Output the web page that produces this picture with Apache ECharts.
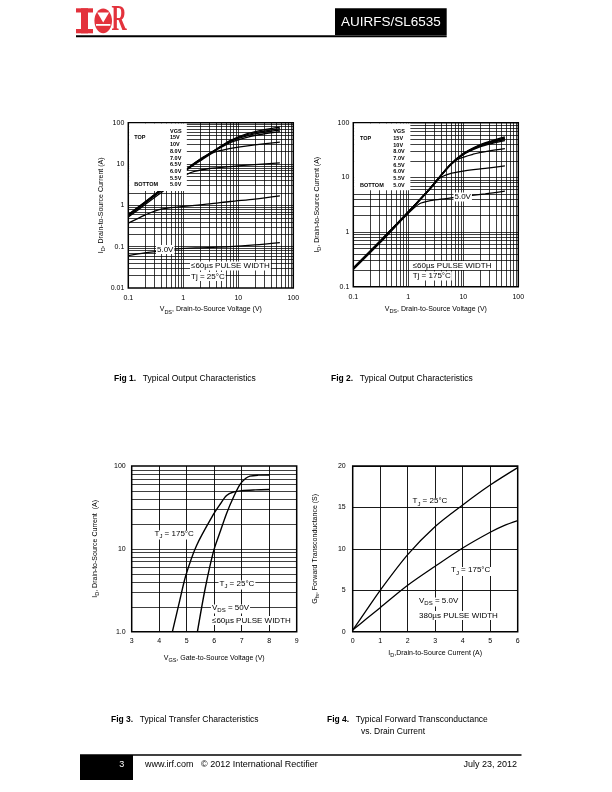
<!DOCTYPE html>
<html><head><meta charset="utf-8">
<script src="https://cdn.jsdelivr.net/npm/echarts@6/dist/echarts.min.js"></script>
<style>html,body{margin:0;padding:0;background:#fff}#c{width:612px;height:792px}</style>
</head><body><div id="c"></div>
<script>
// ---------------- DATA ----------------
const vgsLabels = ['15V','10V','8.0V','7.0V','6.5V','6.0V','5.5V','5.0V'];

// Fig 1: Tj = 25°C  [VDS (V), ID (A)]
const f1_15V = [[0.1,0.6],[0.2,1.2],[0.35,2.15],[0.6,3.8],[1.16,7.7],[2,13],[3.5,20.5],[7.1,37],[15,55],[30,68],[57,78]];
const f1_10V = [[0.1,0.59],[0.2,1.18],[0.35,2.12],[0.6,3.75],[1.16,7.6],[2,12.8],[3.5,20.3],[7.1,36],[15,52],[30,63],[57,72]];
const f1_8V  = [[0.1,0.58],[0.2,1.16],[0.35,2.1],[0.6,3.7],[1.16,7.5],[2,12.6],[3.5,20.1],[7.1,35],[15,49],[30,59],[57,66]];
const f1_7V  = [[0.1,0.57],[0.2,1.14],[0.35,2.05],[0.6,3.6],[1.16,7.4],[2,12.4],[3.5,19.8],[7.1,33],[15,45],[30,54],[57,61]];
const f1_65V = [[0.1,0.56],[0.2,1.12],[0.35,2.0],[0.6,3.5],[1.16,7.2],[2,11.8],[3.5,18.8],[5,21.5],[10,25.5],[20,29],[57,34]];
const f1_6V  = [[0.1,0.52],[0.2,1.03],[0.35,1.8],[0.6,3.1],[1.16,5.6],[1.6,6.6],[3,7.8],[8,8.8],[20,9.7],[57,10.7]];
const f1_55V = [[0.1,0.37],[0.2,0.58],[0.33,0.76],[0.6,0.88],[1,0.94],[3,1.08],[7.1,1.24],[20,1.42],[57,1.7]];
const f1_5V  = [[0.1,0.061],[0.2,0.071],[0.33,0.077],[0.76,0.088],[2,0.094],[7.1,0.10],[20,0.11],[57,0.126]];

// Fig 2: Tj = 175°C
const f2_15V = [[0.1,0.22],[0.3,0.67],[1.06,2.5],[2.44,6.2],[5.6,16.6],[9.8,27],[19.5,39],[35,47.5],[57,55]];
const f2_10V = [[0.1,0.219],[0.3,0.665],[1.06,2.49],[2.44,6.17],[5.6,16.5],[9.8,26.7],[19.5,38.3],[35,46.3],[57,53]];
const f2_8V  = [[0.1,0.218],[0.3,0.66],[1.06,2.48],[2.44,6.15],[5.6,16.4],[9.8,26.4],[19.5,37.6],[35,45],[57,51]];
const f2_7V  = [[0.1,0.217],[0.3,0.655],[1.06,2.47],[2.44,6.12],[5.6,16.3],[9.8,26.1],[19.5,36.8],[35,43.8],[57,49]];
const f2_65V = [[0.1,0.216],[0.3,0.65],[1.06,2.46],[2.44,6.1],[5.6,16.2],[9.8,25.8],[19.5,35.8],[35,42.3],[57,47]];
const f2_6V  = [[0.1,0.215],[0.3,0.645],[1.06,2.45],[2.44,6.05],[5.6,16.0],[8,21.5],[15,26.5],[30,30.5],[57,33.5]];
const f2_55V = [[0.1,0.212],[0.3,0.64],[1.06,2.42],[2.44,6.0],[3.7,9.6],[5.6,11.6],[10,13],[25,14.6],[57,16.2]];
const f2_5V  = [[0.1,0.205],[0.3,0.62],[1,2.2],[1.6,3.3],[2.5,3.75],[4.9,4.1],[10,4.5],[25,5.0],[57,5.6]];

// Fig 3: transfer [VGS (V), ID (A)]
const f3_175 = [[4.48,1],[4.75,2.4],[4.97,4.8],[5.36,11],[5.97,26],[6.2,34],[6.45,44],[6.7,48.5],[7.0,50.5],[7.5,51.5],[8,52]];
const f3_25  = [[5.39,1],[5.67,3.3],[5.97,9.2],[6.2,15.5],[6.45,26.8],[6.7,42],[6.94,60],[7.15,71],[7.3,75.5],[7.6,77.5],[8,78]];

// Fig 4: transconductance [ID (A), Gfs (S)]
const f4_25  = [[0,0.2],[0.5,2.6],[1,5],[2,9.3],[3,12.7],[4,15.3],[5,17.7],[6,19.8]];
const f4_175 = [[0,0.2],[0.5,1.55],[1,2.9],[2,5.6],[3,7.9],[4,10.1],[5,12.0],[5.5,12.8],[6,13.4]];

// legend-box extents in data units [xMin, yMin, xMax, yMax]
const legendBox1 = [0.1, 2.24, 1.16, 100];
const legendBox2 = [0.1, 5.8, 1.09, 100];

// ---------------- HELPERS ----------------
const FONT = 'Liberation Sans, Arial, Helvetica, sans-serif';
function logGridVals(min, max){
  const out=[]; for(let d=min; d<max*0.999; d*=10){ for(let k=1;k<10;k++){ const v=+(d*k).toPrecision(6); if(v>min*1.0001 && v<max*0.9999) out.push(v);} }
  return out;
}
const richName = {
  m:{fontSize:7, fontFamily:FONT, color:'#000', lineHeight:8, padding:[0,0,2,0], verticalAlign:'bottom'},
  s:{fontSize:5.5, fontFamily:FONT, color:'#000', lineHeight:6, verticalAlign:'bottom'}
};
const richAnn = {
  m:{fontSize:8, fontFamily:FONT, color:'#000', lineHeight:9, padding:[0,0,2,0], verticalAlign:'bottom'},
  s:{fontSize:6, fontFamily:FONT, color:'#000', lineHeight:7, verticalAlign:'bottom'}
};
function axLabel(margin, fmt){ const o={fontSize:7, color:'#000', fontFamily:FONT, margin}; if(fmt) o.formatter=fmt; return o; }
function curve(gi, data, w){
  return {type:'line', xAxisIndex:gi, yAxisIndex:gi, data, symbol:'none', showSymbol:false,
    smooth:0.3, lineStyle:{color:'#000', width:w||1.3}, z:3, silent:true, animation:false};
}
function gridSeries(gi, xs, ys, seed){
  return {type:'line', xAxisIndex:gi, yAxisIndex:gi, data:[seed], symbol:'none', showSymbol:false, z:1, silent:true, animation:false,
    lineStyle:{width:0},
    markLine:{silent:true, symbol:['none','none'], animation:false, label:{show:false},
      lineStyle:{color:'#000', width:0.75, type:'solid'},
      emphasis:{disabled:true},
      data:[...xs.map(v=>({xAxis:v})), ...ys.map(v=>({yAxis:v}))]}};
}
function T(x, y, text, o){
  o=o||{};
  return {type:'text', x, y, z:100, silent:true, style:Object.assign({text, fill:o.fill||'#000', fontSize:o.fs||8, fontFamily:o.ff||FONT,
    fontWeight:o.fw||'normal', align:o.align||'left', verticalAlign:'middle'}, o.extra||{})};
}
function R(x,y,w,h,fill,z){ return {type:'rect', z:z||100, silent:true, shape:{x,y,width:w,height:h}, style:{fill}}; }
function L(x1,y1,x2,y2,w){ return {type:'line', z:100, silent:true, shape:{x1,y1,x2,y2}, style:{stroke:'#000', lineWidth:w}}; }
function annRich(x, y, text){
  return {type:'text', x, y, z:100, silent:true, style:{text, rich:richAnn, backgroundColor:'#fff', padding:[0,1,0,1], verticalAlign:'middle', align:'left'}};
}
function annPlain(x, y, text){
  return {type:'text', x, y, z:100, silent:true, style:{text, fill:'#000', fontSize:8, fontFamily:FONT, backgroundColor:'#fff', padding:[1,1,0,1], verticalAlign:'middle', align:'left'}};
}

// ---------------- LAYOUT ----------------
const grids = [
  {left:128.3, top:122.7, width:165, height:165.3},
  {left:353.3, top:122.7, width:165, height:164},
  {left:131.7, top:466, width:165, height:165.7},
  {left:352.7, top:466, width:165, height:165.7}
].map(g=>Object.assign(g,{show:true, z:10, backgroundColor:'transparent', borderColor:'#000', borderWidth:1.5, containLabel:false}));

const baseAx = {axisLine:{show:false}, axisTick:{show:false}, splitLine:{show:false}, nameLocation:'middle', nameTextStyle:{rich:richName}};
const xAxes = [
  Object.assign({}, baseAx, {gridIndex:0, type:'log', logBase:10, min:0.1, max:100, axisLabel:axLabel(7), name:'{m|V}{s|DS}{m|, Drain-to-Source Voltage (V)}', nameGap:19}),
  Object.assign({}, baseAx, {gridIndex:1, type:'log', logBase:10, min:0.1, max:100, axisLabel:axLabel(7), name:'{m|V}{s|DS}{m|, Drain-to-Source Voltage (V)}', nameGap:20}),
  Object.assign({}, baseAx, {gridIndex:2, type:'value', min:3, max:9, interval:1, axisLabel:axLabel(6), name:'{m|V}{s|GS}{m|, Gate-to-Source Voltage (V)}', nameGap:24,
     splitLine:{show:true, lineStyle:{color:'#000', width:0.9}}}),
  Object.assign({}, baseAx, {gridIndex:3, type:'value', min:0, max:6, interval:1, axisLabel:axLabel(6), name:'{m|I}{s|D}{m|,Drain-to-Source Current (A)}', nameGap:19,
     splitLine:{show:true, lineStyle:{color:'#000', width:0.9}}})
];
const yAxes = [
  Object.assign({}, baseAx, {gridIndex:0, type:'log', logBase:10, min:0.01, max:100, axisLabel:axLabel(4), name:'{m|I}{s|D}{m|, Drain-to-Source Current (A)}', nameGap:22}),
  Object.assign({}, baseAx, {gridIndex:1, type:'log', logBase:10, min:0.1, max:100, axisLabel:axLabel(4), name:'{m|I}{s|D}{m|, Drain-to-Source Current (A)}', nameGap:31}),
  Object.assign({}, baseAx, {gridIndex:2, type:'log', logBase:10, min:1, max:100, axisLabel:axLabel(6, v=>v===1?'1.0':String(v)), name:'{m|I}{s|D}{m|, Drain-to-Source Current  (A)}', nameGap:31}),
  Object.assign({}, baseAx, {gridIndex:3, type:'value', min:0, max:20, interval:5, axisLabel:axLabel(7), name:'{m|G}{s|fs}{m|, Forward Transconductance (S)}', nameGap:32,
     splitLine:{show:true, lineStyle:{color:'#000', width:0.9}}})
];

const series = [
  gridSeries(0, logGridVals(0.1,100), logGridVals(0.01,100), [0.1,0.01]),
  ...[f1_15V,f1_10V,f1_8V,f1_7V,f1_65V,f1_6V,f1_55V,f1_5V].map(d=>curve(0,d,1.3)),
  gridSeries(1, logGridVals(0.1,100), logGridVals(0.1,100), [0.1,0.1]),
  ...[f2_15V,f2_10V,f2_8V,f2_7V,f2_65V,f2_6V,f2_55V,f2_5V].map(d=>curve(1,d,1.3)),
  gridSeries(2, [], logGridVals(1,100), [3,1]),
  curve(2, f3_175, 1.4), curve(2, f3_25, 1.4),
  curve(3, f4_25, 1.3), curve(3, f4_175, 1.3)
];

const chart = echarts.init(document.getElementById('c'));
chart.setOption({
  backgroundColor:'#fff', animation:false, textStyle:{fontFamily:FONT},
  grid:grids, xAxis:xAxes, yAxis:yAxes, series
});

// ---------------- GRAPHIC (texts, masks, header, footer) ----------------
const RED = '#e3323c';
const g = [];
// legend white boxes placed through the axis scales
function mask(gi, box){
  const a = chart.convertToPixel({gridIndex:gi}, [box[0], box[3]]);
  const b = chart.convertToPixel({gridIndex:gi}, [box[2], box[1]]);
  g.push(R(a[0]+0.8, a[1]+0.8, b[0]-a[0]-0.8, b[1]-a[1]-0.8, '#fff', 50));
}
mask(0, legendBox1);
mask(1, legendBox2);

// header logo
g.push(R(76,8.3,17,4.2,RED), R(81,8.3,7,25,RED), R(76,29,17,4.3,RED));
g.push({type:'ellipse', z:100, silent:true, shape:{cx:103.2, cy:20.8, rx:8.8, ry:12.4}, style:{fill:RED}});
g.push({type:'polygon', z:101, silent:true, shape:{points:[[97.3,12.5],[109.1,12.5],[103.2,22.5]]}, style:{fill:'#fff'}});
g.push(R(96,24,14.4,1.8,'#fff',101));
g.push({type:'text', x:111.5, y:21, z:100, silent:true, scaleX:0.6, style:{text:'R', fill:RED, fontSize:35, fontWeight:'bold', fontFamily:'Liberation Serif, DejaVu Serif, serif', verticalAlign:'middle', align:'left'}});
g.push(R(335,8.3,111.7,26.7,'#000'));
g.push(T(390.8,21.8,'AUIRFS/SL6535',{fill:'#fff', fs:13.5, align:'center'}));
g.push(L(76,36.2,446.7,36.2,2));
// footer
g.push(L(80,755,521.5,755,1.5));
g.push(R(80,755,53,25,'#000'));
g.push(T(121.7,765,'3',{fill:'#fff', fs:9, align:'center'}));
g.push(T(145,765,'www.irf.com   \u00a9 2012 International Rectifier',{fs:9}));
g.push(T(517,765,'July 23, 2012',{fs:9, align:'right'}));

// legend texts
function legendBlock(xTop, xVal, y0){
  const step = 6.68;
  g.push(T(xVal, y0, 'VGS', {fs:5.5, fw:'bold'}));
  vgsLabels.forEach((s,i)=>g.push(T(xVal, y0+step*(i+1), s, {fs:5.5, fw:'bold'})));
  g.push(T(xTop, y0+step, 'TOP', {fs:5.5, fw:'bold'}));
  g.push(T(xTop, y0+step*8, 'BOTTOM', {fs:5.5, fw:'bold'}));
}
legendBlock(134.3, 170, 131.3);
legendBlock(360, 393.3, 131.8);

// annotations fig1/fig2
g.push(annPlain(156, 249.5, '5.0V'));
g.push(annPlain(190, 266, '\u226460\u00b5s PULSE WIDTH'));
g.push(annPlain(190, 276.5, 'Tj = 25\u00b0C'));
g.push(annPlain(453.5, 197, '5.0V'));
g.push(annPlain(411.7, 265.5, '\u226460\u00b5s PULSE WIDTH'));
g.push(annPlain(411.7, 276, 'Tj = 175\u00b0C'));
// fig3
g.push(annRich(153.5, 535, '{m|T}{s|J}{m| = 175\u00b0C}'));
g.push(annRich(218.5, 585, '{m|T}{s|J}{m| = 25\u00b0C}'));
g.push(annRich(211, 609, '{m|V}{s|DS}{m| = 50V}'));
g.push(annPlain(211, 620.5, '\u226460\u00b5s PULSE WIDTH'));
// fig4
g.push(annRich(411.5, 502.5, '{m|T}{s|J}{m| = 25\u00b0C}'));
g.push(annRich(450, 571.5, '{m|T}{s|J}{m| = 175\u00b0C}'));
g.push(annRich(418, 602, '{m|V}{s|DS}{m| = 5.0V}'));
g.push(annPlain(418, 615.5, '380\u00b5s PULSE WIDTH'));

// captions
const capRich = {b:{fontSize:8.5, fontWeight:'bold', fontFamily:FONT, color:'#000'}, n:{fontSize:8.5, fontFamily:FONT, color:'#000'}};
function cap(x,y,t){ return {type:'text', x, y, z:100, silent:true, style:{text:t, rich:capRich, verticalAlign:'middle', align:'left'}}; }
g.push(cap(114,379,'{b|Fig 1.}  {n|Typical Output Characteristics}'));
g.push(cap(331,379,'{b|Fig 2.}  {n|Typical Output Characteristics}'));
g.push(cap(111,720,'{b|Fig 3.}  {n|Typical Transfer Characteristics}'));
g.push(cap(327,720,'{b|Fig 4.}  {n|Typical Forward Transconductance}'));
g.push(T(393,732,'vs. Drain Current',{fs:8.5, align:'center'}));

chart.setOption({graphic:{elements:g}});
</script></body></html>
